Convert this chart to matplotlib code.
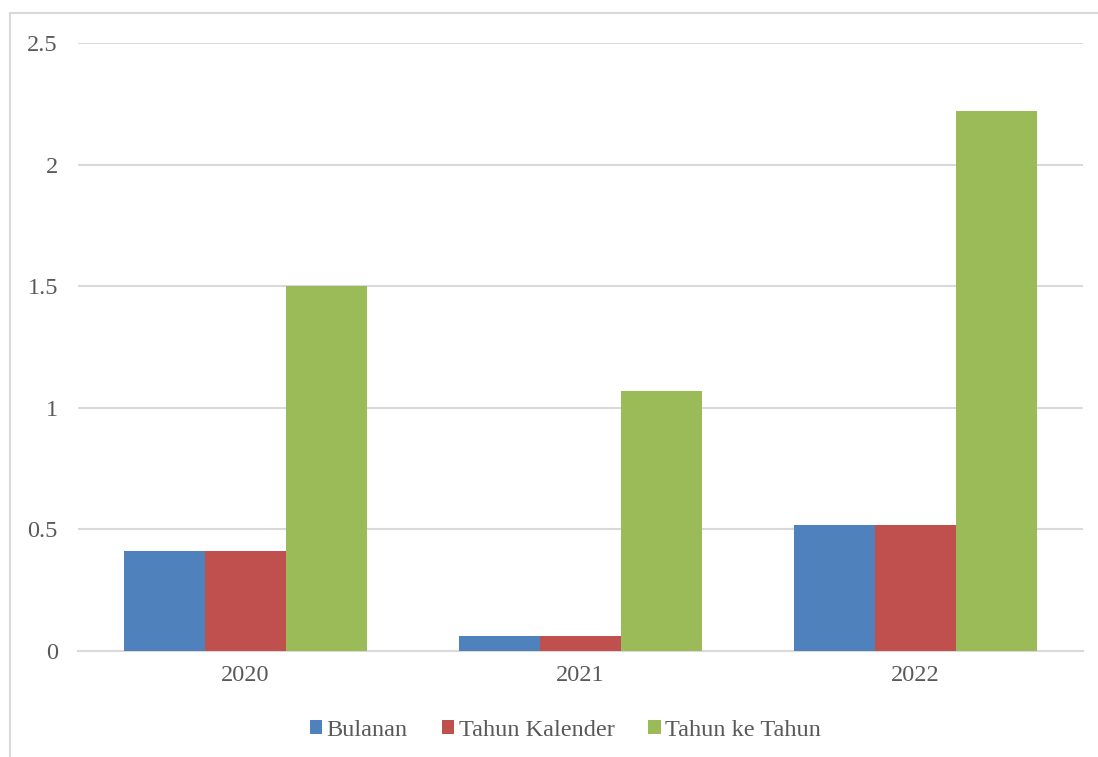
import matplotlib.pyplot as plt
import matplotlib.patches as mpatches
import numpy as np

plt.rcParams['font.family'] = ['Liberation Serif', 'DejaVu Serif']

years = ['2020', '2021', '2022']
bulanan = [0.41, 0.06, 0.52]
tahun_kalender = [0.41, 0.06, 0.52]
tahun_ke_tahun = [1.50, 1.07, 2.22]
series_names = ['Bulanan', 'Tahun Kalender', 'Tahun ke Tahun']
colors = ['#4f81bd', '#c0504d', '#9bbb59']
yticks = [0, 0.5, 1, 1.5, 2, 2.5]
ytick_labels = ['0', '0.5', '1', '1.5', '2', '2.5']

W, H = 1098, 757
fig = plt.figure(figsize=(W / 100, H / 100), dpi=100)
ax = fig.add_axes([78 / W, 1 - 651 / H, (1083 - 78) / W, (651 - 43) / H])

# chart frame (light grey, runs past right/bottom edges)
fig.patches.append(mpatches.Rectangle((10 / W, -0.05), 1.2, 1 - 13 / H + 0.05,
                                      transform=fig.transFigure, fill=False,
                                      edgecolor='#d9d9d9', linewidth=1.5))

x = np.arange(len(years))
w = 0.241
for i, (vals, name) in enumerate(zip([bulanan, tahun_kalender, tahun_ke_tahun], series_names)):
    ax.bar(x + (i - 1) * w, vals, width=w, color=colors[i], label=name, zorder=3,
           edgecolor='none')

ax.set_xlim(-0.5, len(years) - 0.5)
ax.set_ylim(0, 2.5)
ax.set_yticks(yticks)
ax.set_yticklabels(ytick_labels)
ax.set_xticks(x)
ax.set_xticklabels(years)
ax.yaxis.grid(True, color='#d9d9d9', linewidth=1.5, zorder=0)
ax.set_axisbelow(True)
for s in ['top', 'right', 'left']:
    ax.spines[s].set_visible(False)
ax.spines['bottom'].set_color('#d9d9d9')
ax.spines['bottom'].set_linewidth(1.5)
ax.tick_params(axis='both', length=0, labelsize=17.5, labelcolor='#595959')
ax.tick_params(axis='y', pad=14.5)
ax.tick_params(axis='x', pad=10)

leg = ax.legend(loc='center', bbox_to_anchor=(0.485, -0.13), ncol=3, frameon=False,
                fontsize=17.5, handlelength=0.5, handleheight=0.5,
                handletextpad=0.2, columnspacing=1.4, labelcolor='#595959')

fig.savefig('out.png', dpi=100, facecolor='white')
